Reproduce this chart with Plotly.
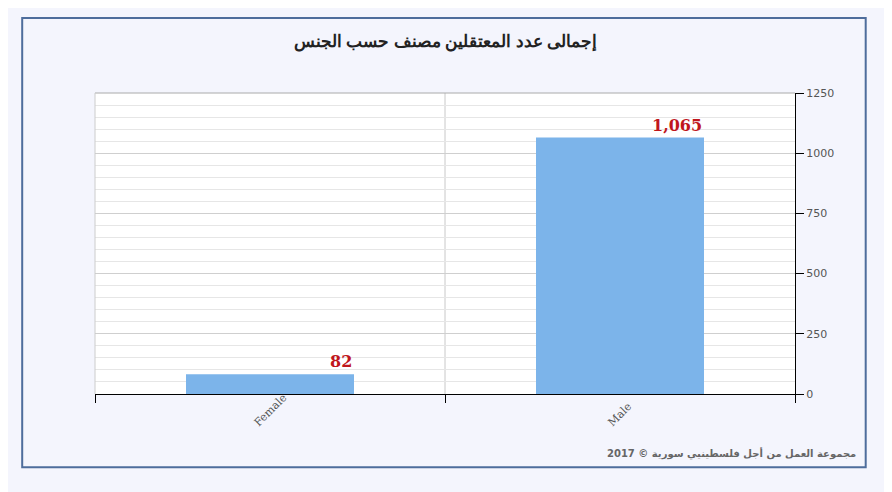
import plotly.graph_objects as go

categories = ["Female", "Male"]
values = [82, 1065]
value_labels = ["82", "1,065"]
title = "إجمالى عدد المعتقلين مصنف حسب الجنس"
credit = "مجموعة العمل من أجل فلسطينيي سورية © 2017"

fig = go.Figure(go.Bar(x=categories, y=values, width=0.48, marker_color="#7cb4ea",
                       marker_line_width=0, hoverinfo="skip"))

for i, (c, v, t) in enumerate(zip(categories, values, value_labels)):
    fig.add_annotation(x=i + 0.24, y=v, xref="x", yref="y", text="<b>" + t + "</b>",
                       showarrow=False, xanchor="right", yanchor="bottom", yshift=1,
                       font=dict(family="DejaVu Serif", size=16, color="#c0161c"))

fig.add_annotation(x=0.5, y=1.13, xref="paper", yref="paper", yanchor="bottom",
                   text="<b>" + title + "</b>", showarrow=False,
                   font=dict(family="Noto Sans", size=17, color="#222"))
fig.add_annotation(x=1.09, y=-0.225, xref="paper", yref="paper", xanchor="right",
                   text="<b>" + credit + "</b>", showarrow=False,
                   font=dict(family="DejaVu Sans", size=10, color="#666"))

fig.add_shape(type="rect", xref="paper", yref="paper", x0=-0.104, x1=1.101, y0=-0.243, y1=1.249,
              line=dict(color="#4e6d9c", width=2), layer="below", fillcolor="rgba(0,0,0,0)")
fig.add_shape(type="line", xref="x", yref="paper", x0=0.5, x1=0.5, y0=0, y1=1,
              line=dict(color="#c8c8c8", width=1), layer="below")

fig.update_layout(
    width=884, height=484, margin=dict(l=87, r=97, t=85, b=98),
    paper_bgcolor="#f4f5fd", plot_bgcolor="white", showlegend=False,
    xaxis=dict(range=[-0.5, 1.5], showline=True, linecolor="#000", linewidth=1,
               ticks="outside", tickcolor="#000", ticklen=8, tickvals=[-0.5, 0.5, 1.5],
               ticktext=["", "", ""], showgrid=False, fixedrange=True),
    yaxis=dict(range=[0, 1250], side="right", tickvals=[0, 250, 500, 750, 1000, 1250],
               showgrid=True, gridcolor="#cfcfcf", gridwidth=1,
               minor=dict(dtick=50, showgrid=True, gridcolor="#e6e6e6"),
               ticks="outside", ticklen=8, tickcolor="#000", showline=True, linecolor="#000",
               tickfont=dict(family="DejaVu Sans", size=11, color="#555"), zeroline=False),
)
for i, c in enumerate(categories):
    fig.add_annotation(x=i, y=0, xref="x", yref="paper", text=c, showarrow=False,
                       textangle=-45, yshift=-38, font=dict(family="DejaVu Serif", size=11, color="#555"))
fig.add_shape(type="line", xref="paper", yref="paper", x0=0, x1=1, y0=1, y1=1,
              line=dict(color="#aaa", width=1))
fig.add_shape(type="line", xref="paper", yref="paper", x0=0, x1=0, y0=0, y1=1,
              line=dict(color="#ccc", width=1))
fig.write_html("out.html")
